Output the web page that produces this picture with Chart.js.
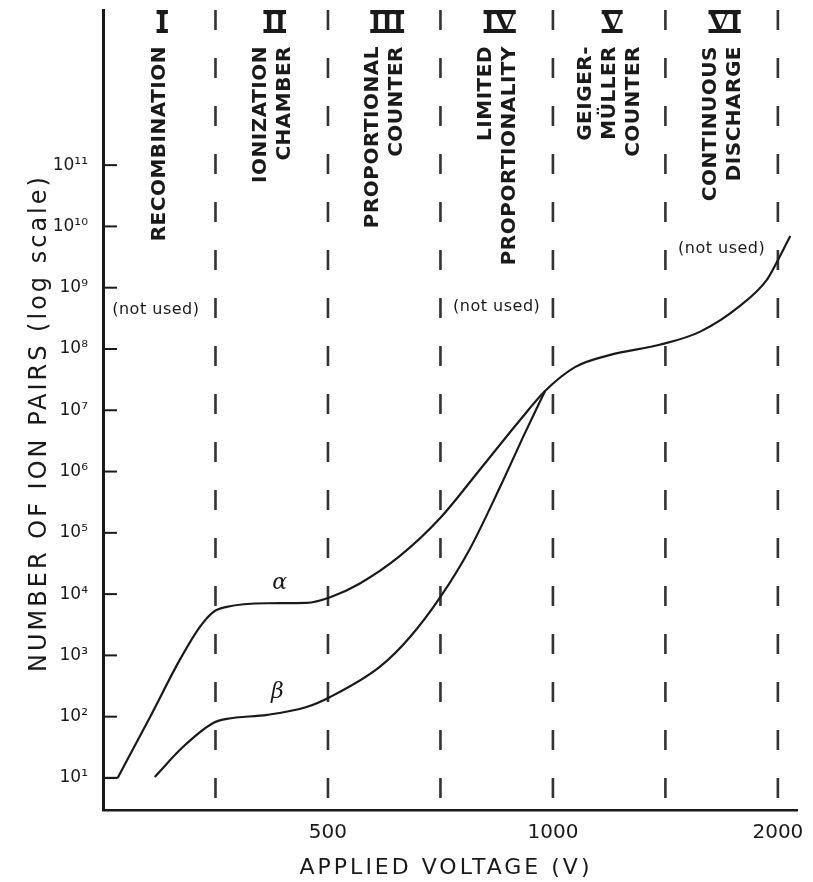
<!DOCTYPE html>
<html>
<head>
<meta charset="utf-8">
<script src="https://cdn.jsdelivr.net/npm/chart.js@4"></script>
<style>
  html, body { margin: 0; padding: 0; background: #fff; }
  canvas { display: block; }
</style>
</head>
<body>
<canvas id="ionChart" width="813" height="882"></canvas>
<script>
// x is measured in operating-region units: regions I..VI are one unit wide each
const alphaX = [0, 0.13, 0.42, 0.68, 0.86, 0.98, 1.10, 1.46, 1.81, 2.02, 2.28, 2.64, 3.00, 3.35, 3.71, 3.93, 4.20, 4.51, 4.95, 5.31, 5.66, 5.90, 5.99, 6.06, 6.11];
const alphaPairs = [1e1, 1e1, 1e2, 8.3e2, 2.9e3, 5.1e3, 6.2e3, 7.1e3, 7.2e3, 8.9e3, 1.48e4, 4.2e4, 1.76e5, 1.07e6, 7.0e6, 2.06e7, 5.1e7, 8.0e7, 1.17e8, 1.92e8, 5.0e8, 1.33e9, 2.6e9, 4.6e9, 7.0e9];

const betaX = [0.46, 0.71, 0.98, 1.10, 1.46, 1.81, 2.02, 2.46, 2.73, 3.00, 3.26, 3.53, 3.75, 3.93];
const betaPairs = [1.04e1, 3.2e1, 7.9e1, 9.2e1, 1.07e2, 1.44e2, 2.1e2, 6.5e2, 2.0e3, 9.0e3, 5.4e4, 5.6e5, 4.2e6, 2.06e7];

const regionBounds = [1, 2, 3, 4, 5, 6];
const regionNumerals = ['I', 'II', 'III', 'IV', 'V', 'VI'];
const regionNames = [
  ['RECOMBINATION'],
  ['IONIZATION', 'CHAMBER'],
  ['PROPORTIONAL', 'COUNTER'],
  ['LIMITED', 'PROPORTIONALITY'],
  ['GEIGER-', 'MÜLLER', 'COUNTER'],
  ['CONTINUOUS', 'DISCHARGE']
];
// "(not used)" notes: [x in region units, ion pairs]
const notUsedAt = [[0.47, 4.3e8], [3.50, 4.8e8], [5.50, 4.3e9]];
const curveTags = [['α', 1.57, 1.5e4], ['β', 1.55, 2.5e2]];

const xTickPositions = [2, 4, 6];
const xTickLabels = ['500', '1000', '2000'];
const yTickValues = [1e1, 1e2, 1e3, 1e4, 1e5, 1e6, 1e7, 1e8, 1e9, 1e10, 1e11];
const yTickLabels = ['10¹', '10²', '10³', '10⁴', '10⁵', '10⁶', '10⁷', '10⁸', '10⁹', '10¹⁰', '10¹¹'];

const X_MIN = 0, X_MAX = 6.17;
const Y_MIN = 3.0, Y_MAX = 3.4e13;
const ink = '#1a1a1a';

const toPoints = (xs, ys) => xs.map((x, i) => ({ x: x, y: ys[i] }));

const curveStyle = {
  borderColor: ink,
  borderWidth: 2.2,
  pointRadius: 0,
  fill: false,
  cubicInterpolationMode: 'monotone'
};

// the alpha curve sits flat on 10 before it kinks upward
const datasets = [
  Object.assign({ label: 'alpha-start', data: toPoints(alphaX.slice(0, 2), alphaPairs.slice(0, 2)) }, curveStyle),
  Object.assign({ label: 'alpha', data: toPoints(alphaX.slice(1), alphaPairs.slice(1)) }, curveStyle),
  Object.assign({ label: 'beta', data: toPoints(betaX, betaPairs) }, curveStyle)
];

// dashed region boundaries, drawn from the top down
regionBounds.forEach(b => {
  datasets.push({
    label: 'bound' + b,
    data: [{ x: b, y: Y_MAX }, { x: b, y: Y_MIN }],
    borderColor: '#333',
    borderWidth: 2.6,
    borderDash: [20, 28],
    pointRadius: 0,
    tension: 0
  });
});

const annotations = {
  id: 'annotations',
  afterDraw(chart) {
    const { ctx, chartArea, scales: { x, y } } = chart;
    ctx.save();
    ctx.fillStyle = ink;
    ctx.strokeStyle = ink;

    // tick marks point inward from the y axis
    ctx.lineWidth = 2;
    yTickValues.forEach(v => {
      const py = y.getPixelForValue(v);
      ctx.beginPath();
      ctx.moveTo(chartArea.left, py);
      ctx.lineTo(chartArea.left + 14, py);
      ctx.stroke();
    });

    // roman numerals with full-width bars
    ctx.font = 'bold 29px "Liberation Serif"';
    ctx.textAlign = 'center';
    ctx.textBaseline = 'alphabetic';
    regionNumerals.forEach((n, i) => {
      const cx = x.getPixelForValue(i + 0.5) + 3;
      const w = ctx.measureText(n).width;
      ctx.fillText(n, cx, 32);
      ctx.fillRect(cx - w / 2, 10, w, 4);
      ctx.fillRect(cx - w / 2, 29, w, 4);
    });

    // vertical region names, top-aligned under the numerals
    ctx.font = 'bold 20px "DejaVu Sans"';
    ctx.letterSpacing = '0.5px';
    ctx.textAlign = 'right';
    ctx.textBaseline = 'middle';
    regionNames.forEach((lines, i) => {
      const cx = x.getPixelForValue(i + 0.5) + 1;
      lines.forEach((line, j) => {
        const off = (j - (lines.length - 1) / 2) * 24;
        ctx.save();
        ctx.translate(cx + off, 46);
        ctx.rotate(-Math.PI / 2);
        ctx.fillText(line, 0, 0);
        ctx.restore();
      });
    });

    ctx.font = '16px "DejaVu Sans"';
    ctx.textAlign = 'center';
    notUsedAt.forEach(([u, v]) => {
      ctx.fillText('(not used)', x.getPixelForValue(u), y.getPixelForValue(v));
    });
    ctx.letterSpacing = '0px';

    ctx.font = 'italic 22px "DejaVu Serif"';
    curveTags.forEach(([t, u, v]) => {
      ctx.fillText(t, x.getPixelForValue(u), y.getPixelForValue(v));
    });

    // axis titles
    ctx.font = '22px "DejaVu Sans"';
    ctx.letterSpacing = '3px';
    ctx.fillText('APPLIED VOLTAGE (V)', (chartArea.left + chartArea.right) / 2 - 4, 868);

    ctx.font = '24px "DejaVu Sans"';
    ctx.save();
    ctx.translate(40, 423);
    ctx.rotate(-Math.PI / 2);
    ctx.fillText('NUMBER OF ION PAIRS (log scale)', 0, 0);
    ctx.restore();
    ctx.letterSpacing = '0px';

    ctx.restore();
  }
};

const ionChart = new Chart(document.getElementById('ionChart').getContext('2d'), {
  type: 'line',
  data: { datasets: datasets },
  options: {
    responsive: false,
    animation: false,
    events: [],
    layout: { padding: { top: 10, right: 16, left: 0, bottom: 0 } },
    plugins: {
      legend: { display: false },
      tooltip: { enabled: false }
    },
    scales: {
      x: {
        type: 'linear',
        min: X_MIN,
        max: X_MAX,
        grid: { display: false },
        border: { display: true, color: ink, width: 2.5 },
        afterFit: s => { s.height = 72; s.paddingLeft = 0; s.paddingRight = 0; },
        afterBuildTicks: s => { s.ticks = xTickPositions.map(v => ({ value: v })); },
        ticks: {
          autoSkip: false,
          maxRotation: 0,
          padding: 3,
          color: ink,
          font: { family: 'DejaVu Sans', size: 20 },
          callback: (v, i) => xTickLabels[i]
        }
      },
      y: {
        type: 'logarithmic',
        min: Y_MIN,
        max: Y_MAX,
        grid: { display: false },
        border: { display: true, color: ink, width: 3 },
        // the top label sits far below the axis end, so no extra room is needed
        afterFit: s => { s.width = 103; s.paddingTop = 0; s.paddingBottom = 0; },
        afterBuildTicks: s => { s.ticks = yTickValues.map(v => ({ value: v })); },
        ticks: {
          autoSkip: false,
          padding: 7,
          color: ink,
          font: { family: 'DejaVu Sans', size: 17 },
          callback: (v, i) => yTickLabels[i]
        }
      }
    }
  },
  plugins: [annotations]
});
</script>
</body>
</html>
